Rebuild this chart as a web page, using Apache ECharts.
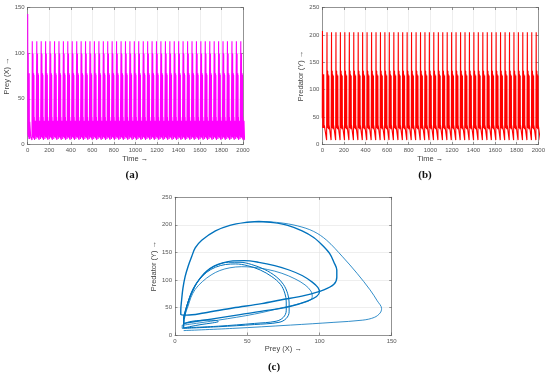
<!DOCTYPE html>
<html><head><meta charset="utf-8">
<script src="https://cdn.jsdelivr.net/npm/echarts@6/dist/echarts.min.js"></script>
<style>html,body{margin:0;padding:0;background:#fff}#c{width:550px;height:379px}</style>
</head><body><div id="c"></div>
<script>
// ---- data ----
// time series: initial transient turning points [time, value]
const preyStart = [[0,143],[2,10],[5,100],[7,8],[10,78],[12,6],[14,78],[16,6],[19,25],[28,8],[40,5]];
const predStart = [[0,48],[1.5,207],[4,30],[7,125],[10,30],[13,128],[16,30],[19,35],[40,8]];
// start time of each recurring oscillation burst (read from the tall spikes)
const cycleStarts = [41,83,124,165,206,248,289,330,371,412,454,495,536,577,618,660,701,742,783,824,866,907,948,989,1030,1072,1113,1154,1195,1236,1278,1319,1360,1401,1442,1484,1525,1566,1607,1648,1690,1731,1772,1813,1854,1896,1937,1978];
// turning points within one burst [offset, value]
const preyCycle = [[0,5],[1.5,113],[3,8],[5,100],[6.5,8],[8,99],[9.5,8],[11,78],[12.5,7],[14,78],[15.5,7],[17,76],[18.5,6],[20.5,30],[22.5,5],[31,26],[36,6],[40.5,5]];
const predCycle = [[0,8],[2.5,205],[4,32],[6,135],[7.5,30],[9,134],[10.5,30],[12.5,128],[14,29],[16,125],[17.5,28],[19.5,126],[21,30],[22.5,35],[24,33],[40.5,8]];

// phase portrait curves [prey, predator]
const loopTransient = [[6,8],[40,12],[80,18],[110,23],[130,27],[138,32],[142,40],[143,48],[140,62],[135,82],[126,112],[116,142],[105,172],[96,188],[85,198],[72,204],[60,206]];
const loopBig = [[58,206],[48,204],[38,199],[28,189],[18.5,172],[14,158],[11.5,142],[9,124],[7,106],[5.5,85],[4.6,64],[4,45],[4,37],[8,36],[20,40],[40,49],[60,57],[73,63.5],[90,72],[103,82],[110,92],[112,105],[112,118],[110,132],[107,148],[102,163],[96,177],[88,189],[78,199],[68,204],[58,206]];
const loopMid = [[6,21],[25,29],[45,37],[65,45],[80,52],[92,62],[98,70],[100,78],[99,86],[95,96],[88,108],[79,118],[69,126],[58,132],[48,135],[40,134.5],[33,131],[27,125],[22,116],[18,105],[14,90],[11,74],[9,58],[7,42],[6,30],[6,21]];
const loopN1 = [[6,12],[30,15],[55,19],[72,23],[77,30],[79,42],[79,58],[78,75],[75,92],[70,106],[62,119],[53,128],[45,132],[37,132],[30,128],[24,120],[19,108],[15,94],[12,78],[9,60],[7,42],[6,28],[6,18],[6,12]];
const loopN2 = [[6,13],[30,16],[55,21],[70,25],[75,32],[77,44],[77,60],[76,76],[73,92],[67,106],[59,118],[50,126],[42,129],[35,128],[28,123],[22,114],[17,101],[13,86],[10,68],[8,50],[7,35],[6,22],[6,13]];
const loopP = [[6,18],[30,27],[55,38],[75,50],[88,58],[94,64],[95,70],[94,80],[90,91],[83,102],[74,112],[64,119],[54,123],[46,124],[38,122],[31,117],[25,109],[19,97],[14,83],[11,68],[9,52],[7,38],[6,27],[6,18]];
const loopSmall = [[5,12],[10,15],[18,19],[26,22],[30,24.5],[28,26.5],[22,27],[15,26],[10,24],[7,21],[5,17],[5,12]];

// ---- build series data from the arrays ----
function build(start, cycle){
  const out = start.slice();
  cycleStarts.forEach(s => cycle.forEach(p => out.push([s + p[0], p[1]])));
  return out;
}
const preySeries = build(preyStart, preyCycle);
const predSeries = build(predStart, predCycle);

const font = 'Liberation Sans, Arial, sans-serif';
const axisCol = '#555';
const gridCol = '#e3e3e3';
const plain = v => String(v);

function xAx(gi, min, max, interval, name){
  return [{
    type:'value', gridIndex:gi, min, max, interval, position:'bottom',
    name, nameLocation:'middle', nameGap:10,
    nameTextStyle:{fontFamily:font, fontSize:7.5, color:'#444'},
    axisLine:{show:true, lineStyle:{color:axisCol, width:0.6}},
    axisTick:{show:true, inside:true, length:2.5, lineStyle:{color:axisCol, width:0.6}},
    axisLabel:{fontFamily:font, fontSize:6, color:'#555', margin:3, formatter:plain},
    splitLine:{show:true, lineStyle:{color:gridCol, width:0.6}}
  },{
    type:'value', gridIndex:gi, min, max, interval, position:'top',
    axisLine:{show:true, onZero:false, lineStyle:{color:axisCol, width:0.6}},
    axisTick:{show:true, inside:true, length:2.5, lineStyle:{color:axisCol, width:0.6}},
    axisLabel:{show:false}, splitLine:{show:false}
  }];
}
function yAx(gi, min, max, interval, name, gap){
  return [{
    type:'value', gridIndex:gi, min, max, interval, position:'left',
    name, nameLocation:'middle', nameGap:gap,
    nameTextStyle:{fontFamily:font, fontSize:7.5, color:'#444'},
    axisLine:{show:true, onZero:false, lineStyle:{color:axisCol, width:0.6}},
    axisTick:{show:true, inside:true, length:2.5, lineStyle:{color:axisCol, width:0.6}},
    axisLabel:{fontFamily:font, fontSize:6, color:'#555', margin:3, formatter:plain},
    splitLine:{show:true, lineStyle:{color:gridCol, width:0.6}}
  },{
    type:'value', gridIndex:gi, min, max, interval, position:'right',
    axisLine:{show:true, onZero:false, lineStyle:{color:axisCol, width:0.6}},
    axisTick:{show:true, inside:true, length:2.5, lineStyle:{color:axisCol, width:0.6}},
    axisLabel:{show:false}, splitLine:{show:false}
  }];
}

const xAxes = [].concat(xAx(0,0,2000,200,'Time →'), xAx(1,0,2000,200,'Time →'), xAx(2,0,150,50,'Prey (X) →'));
const yAxes = [].concat(yAx(0,0,150,50,'Prey (X) →',14), yAx(1,0,250,50,'Predator (Y) →',14), yAx(2,0,250,50,'Predator (Y) →',14));

function phase(data, w){
  return {type:'line', xAxisIndex:4, yAxisIndex:4, data, showSymbol:false, smooth:0.35,
    lineStyle:{color:'#0072BD', width:w}, silent:true, animation:false};
}

const chart = echarts.init(document.getElementById('c'), null, {renderer:'canvas'});
chart.setOption({
  animation:false,
  backgroundColor:'#fff',
  grid:[
    {left:27.7, top:7.5, width:215.3, height:137},
    {left:322.3, top:7.5, width:216, height:137},
    {left:175, top:197.3, width:216.7, height:137.7}
  ],
  xAxis:xAxes,
  yAxis:yAxes,
  series:[
    {type:'line', xAxisIndex:0, yAxisIndex:0, data:preySeries, showSymbol:false,
      lineStyle:{color:'#ff00ff', width:1.1}, silent:true},
    {type:'line', xAxisIndex:2, yAxisIndex:2, data:predSeries, showSymbol:false,
      lineStyle:{color:'#ff0000', width:1.1}, silent:true},
    phase(loopTransient, 0.8),
    phase(loopBig, 1.4),
    phase(loopMid, 1.3),
    phase(loopN1, 1.0),
    phase(loopN2, 1.0),
    phase(loopP, 0.8),
    phase(loopSmall, 1.0)
  ],
  graphic:[
    {type:'text', x:132, y:170, style:{text:'(a)', font:'bold 11px "Liberation Serif", serif', fill:'#111', textAlign:'center'}},
    {type:'text', x:425, y:170, style:{text:'(b)', font:'bold 11px "Liberation Serif", serif', fill:'#111', textAlign:'center'}},
    {type:'text', x:274, y:362, style:{text:'(c)', font:'bold 11px "Liberation Serif", serif', fill:'#111', textAlign:'center'}}
  ]
});
</script></body></html>
